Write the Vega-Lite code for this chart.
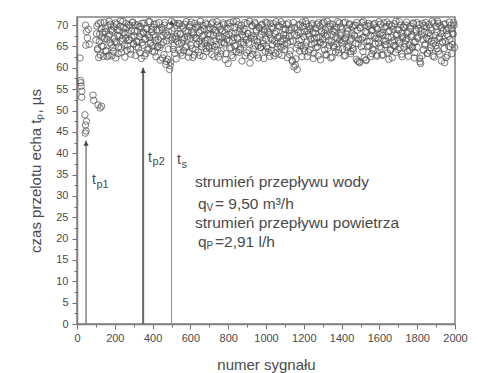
{
  "$schema": "https://vega.github.io/schema/vega-lite/v6.json",
  "width": 378,
  "height": 307,
  "autosize": {"type": "none"},
  "padding": {"left": 77, "top": 17, "right": 23, "bottom": 49},
  "background": "white",
  "config": {
    "view": {"stroke": "#808080", "strokeWidth": 1.5},
    "axis": {
      "domainColor": "#808080", "domainWidth": 1.5, "tickColor": "#707070", "tickWidth": 1,
      "labelColor": "#4a4a4a", "titleColor": "#4a4a4a", "labelFont": "Liberation Sans", "titleFont": "Liberation Sans",
      "labelFontSize": 11, "titleFontSize": 15, "titleFontWeight": "normal", "grid": false,
      "labelFlush": false, "labelOverlap": false, "tickCount": 100
    },
    "text": {"font": "Liberation Sans", "color": "#4a4a4a"}
  },
  "datasets": {
    "pts": [
      {"n":16,"t":62.3},{"n":18,"t":57.0},{"n":22,"t":55.7},{"n":20,"t":56.5},{"n":25,"t":53.1},{"n":26,"t":54.5},{"n":42,"t":49.0},{"n":45,"t":46.6},{"n":48,"t":45.2},{"n":44,"t":44.7},{"n":50,"t":47.5},{"n":85,"t":53.6},{"n":88,"t":52.4},{"n":111,"t":51.3},{"n":122,"t":50.6},{"n":130,"t":51.0},{"n":45,"t":70.0},{"n":50,"t":68.5},{"n":55,"t":67.0},{"n":47,"t":65.3},{"n":65,"t":65.5},{"n":60,"t":69.0},
      {"n":100,"t":66.5},{"n":105,"t":69.8},{"n":110,"t":64.2},{"n":115,"t":62.4},{"n":120,"t":67.9},{"n":125,"t":70.6},{"n":130,"t":65.1},{"n":135,"t":68.3},{"n":140,"t":62.7},{"n":145,"t":66.8},{"n":150,"t":69.2},{"n":155,"t":63.9},{"n":160,"t":62.6},{"n":165,"t":67.4},{"n":170,"t":70.9},{"n":175,"t":65.8},{"n":180,"t":68.9},{"n":185,"t":62.8},{"n":190,"t":64.7},{"n":195,"t":69.6},
      {"n":200,"t":66.1},{"n":205,"t":62.3},{"n":210,"t":70.2},{"n":215,"t":67.6},{"n":220,"t":64.9},{"n":225,"t":68.7},{"n":230,"t":71.0},{"n":235,"t":63.6},{"n":240,"t":66.9},{"n":245,"t":69.4},{"n":250,"t":65.3},{"n":255,"t":67.8},{"n":260,"t":70.4},{"n":265,"t":64.1},{"n":270,"t":68.2},{"n":275,"t":66.4},{"n":280,"t":69.9},{"n":285,"t":63.2},{"n":290,"t":67.1},{"n":295,"t":70.7},
      {"n":300,"t":65.6},{"n":305,"t":68.6},{"n":310,"t":62.9},{"n":315,"t":66.2},{"n":320,"t":70.1},{"n":325,"t":64.6},{"n":330,"t":67.3},{"n":335,"t":69.7},{"n":340,"t":62.2},{"n":345,"t":65.9},{"n":350,"t":68.1},{"n":355,"t":70.5},{"n":360,"t":66.7},{"n":365,"t":63.4},{"n":370,"t":69.1},{"n":375,"t":67.7},{"n":380,"t":64.4},{"n":385,"t":70.8},{"n":390,"t":66.0},{"n":395,"t":68.4},
      {"n":400,"t":65.2},{"n":405,"t":69.5},{"n":410,"t":63.7},{"n":415,"t":67.2},{"n":420,"t":70.3},{"n":425,"t":64.8},{"n":430,"t":66.6},{"n":435,"t":68.8},{"n":440,"t":61.8},{"n":445,"t":65.4},{"n":450,"t":69.0},{"n":455,"t":67.5},{"n":460,"t":63.1},{"n":465,"t":70.6},{"n":470,"t":60.8},{"n":475,"t":66.3},{"n":480,"t":62.0},{"n":485,"t":68.5},{"n":490,"t":59.6},{"n":495,"t":61.3},
      {"n":500,"t":70.9},{"n":505,"t":67.0},{"n":510,"t":64.3},{"n":515,"t":69.3},{"n":520,"t":66.8},{"n":525,"t":62.1},{"n":530,"t":68.0},{"n":535,"t":70.4},{"n":540,"t":65.7},{"n":545,"t":67.9},{"n":550,"t":63.5},{"n":555,"t":69.8},{"n":560,"t":66.5},{"n":565,"t":64.0},{"n":570,"t":70.2},{"n":575,"t":68.6},{"n":580,"t":65.0},{"n":585,"t":67.4},{"n":590,"t":62.5},{"n":595,"t":69.6},
      {"n":600,"t":66.9},{"n":605,"t":70.7},{"n":610,"t":64.5},{"n":615,"t":68.2},{"n":620,"t":63.0},{"n":625,"t":67.0},{"n":630,"t":69.4},{"n":635,"t":65.5},{"n":640,"t":70.0},{"n":645,"t":66.2},{"n":650,"t":62.9},{"n":655,"t":68.8},{"n":660,"t":64.9},{"n":665,"t":69.9},{"n":670,"t":67.6},{"n":675,"t":65.8},{"n":680,"t":70.5},{"n":685,"t":63.8},{"n":690,"t":66.6},{"n":695,"t":68.9},
      {"n":700,"t":64.6},{"n":705,"t":67.8},{"n":710,"t":70.3},{"n":715,"t":65.2},{"n":720,"t":69.1},{"n":725,"t":62.6},{"n":730,"t":66.4},{"n":735,"t":68.3},{"n":740,"t":70.8},{"n":745,"t":64.2},{"n":750,"t":67.3},{"n":755,"t":69.7},{"n":760,"t":63.3},{"n":765,"t":66.0},{"n":770,"t":68.7},{"n":775,"t":70.1},{"n":780,"t":65.6},{"n":785,"t":61.9},{"n":790,"t":67.5},{"n":795,"t":69.2},
      {"n":800,"t":61.0},{"n":805,"t":66.3},{"n":810,"t":70.6},{"n":815,"t":64.7},{"n":820,"t":68.0},{"n":825,"t":62.4},{"n":830,"t":67.1},{"n":835,"t":69.5},{"n":840,"t":65.3},{"n":845,"t":70.9},{"n":850,"t":66.8},{"n":855,"t":63.6},{"n":860,"t":68.4},{"n":865,"t":64.4},{"n":870,"t":70.0},{"n":875,"t":67.7},{"n":880,"t":65.9},{"n":885,"t":69.0},{"n":890,"t":62.8},{"n":895,"t":66.5},
      {"n":900,"t":70.4},{"n":905,"t":68.1},{"n":910,"t":64.1},{"n":915,"t":61.1},{"n":920,"t":66.9},{"n":925,"t":69.8},{"n":930,"t":63.2},{"n":935,"t":67.2},{"n":940,"t":70.7},{"n":945,"t":65.1},{"n":950,"t":68.6},{"n":955,"t":66.1},{"n":960,"t":62.3},{"n":965,"t":69.3},{"n":970,"t":64.8},{"n":975,"t":67.9},{"n":980,"t":70.2},{"n":985,"t":65.7},{"n":990,"t":68.9},{"n":995,"t":63.9},
      {"n":1000,"t":66.7},{"n":1005,"t":70.5},{"n":1010,"t":64.5},{"n":1015,"t":68.2},{"n":1020,"t":62.7},{"n":1025,"t":67.0},{"n":1030,"t":69.6},{"n":1035,"t":65.4},{"n":1040,"t":70.3},{"n":1045,"t":66.3},{"n":1050,"t":63.4},{"n":1055,"t":68.5},{"n":1060,"t":64.9},{"n":1065,"t":69.9},{"n":1070,"t":67.4},{"n":1075,"t":65.0},{"n":1080,"t":70.8},{"n":1085,"t":62.9},{"n":1090,"t":66.8},{"n":1095,"t":69.1},
      {"n":1100,"t":64.3},{"n":1105,"t":67.6},{"n":1110,"t":70.1},{"n":1115,"t":65.8},{"n":1120,"t":68.8},{"n":1125,"t":63.1},{"n":1130,"t":66.2},{"n":1135,"t":69.4},{"n":1140,"t":61.5},{"n":1145,"t":70.6},{"n":1150,"t":67.8},{"n":1155,"t":60.6},{"n":1160,"t":64.6},{"n":1165,"t":59.6},{"n":1170,"t":68.3},{"n":1175,"t":66.4},{"n":1180,"t":70.0},{"n":1185,"t":65.2},{"n":1190,"t":62.6},{"n":1195,"t":69.7},
      {"n":1200,"t":67.3},{"n":1205,"t":64.0},{"n":1210,"t":70.9},{"n":1215,"t":66.0},{"n":1220,"t":68.7},{"n":1225,"t":63.7},{"n":1230,"t":67.5},{"n":1235,"t":69.2},{"n":1240,"t":65.5},{"n":1245,"t":70.4},{"n":1250,"t":62.2},{"n":1255,"t":66.9},{"n":1260,"t":68.1},{"n":1265,"t":64.7},{"n":1270,"t":70.2},{"n":1275,"t":62.8},{"n":1280,"t":67.1},{"n":1285,"t":69.8},{"n":1290,"t":65.9},{"n":1295,"t":68.4},
      {"n":1300,"t":66.6},{"n":1305,"t":70.7},{"n":1310,"t":64.2},{"n":1315,"t":68.9},{"n":1320,"t":63.0},{"n":1325,"t":67.7},{"n":1330,"t":69.5},{"n":1335,"t":65.3},{"n":1340,"t":70.3},{"n":1345,"t":66.1},{"n":1350,"t":62.5},{"n":1355,"t":68.6},{"n":1360,"t":64.8},{"n":1365,"t":69.0},{"n":1370,"t":67.2},{"n":1375,"t":65.6},{"n":1380,"t":70.8},{"n":1385,"t":63.5},{"n":1390,"t":66.5},{"n":1395,"t":69.6},
      {"n":1400,"t":68.2},{"n":1405,"t":64.4},{"n":1410,"t":70.5},{"n":1415,"t":66.8},{"n":1420,"t":62.9},{"n":1425,"t":67.9},{"n":1430,"t":69.3},{"n":1435,"t":65.0},{"n":1440,"t":70.1},{"n":1445,"t":66.3},{"n":1450,"t":63.8},{"n":1455,"t":68.0},{"n":1460,"t":64.5},{"n":1465,"t":69.9},{"n":1470,"t":67.4},{"n":1475,"t":65.7},{"n":1480,"t":70.6},{"n":1485,"t":61.6},{"n":1490,"t":66.7},{"n":1495,"t":61.2},
      {"n":1500,"t":69.4},{"n":1505,"t":64.9},{"n":1510,"t":67.0},{"n":1515,"t":70.9},{"n":1520,"t":62.4},{"n":1525,"t":68.5},{"n":1530,"t":61.7},{"n":1535,"t":66.2},{"n":1540,"t":69.7},{"n":1545,"t":65.1},{"n":1550,"t":70.0},{"n":1555,"t":67.6},{"n":1560,"t":63.3},{"n":1565,"t":68.8},{"n":1570,"t":64.1},{"n":1575,"t":70.4},{"n":1580,"t":66.9},{"n":1585,"t":62.7},{"n":1590,"t":69.1},{"n":1595,"t":65.8},
      {"n":1600,"t":67.8},{"n":1605,"t":70.2},{"n":1610,"t":64.6},{"n":1615,"t":68.3},{"n":1620,"t":63.1},{"n":1625,"t":66.4},{"n":1630,"t":69.5},{"n":1635,"t":65.4},{"n":1640,"t":70.7},{"n":1645,"t":67.1},{"n":1650,"t":62.0},{"n":1655,"t":68.7},{"n":1660,"t":64.3},{"n":1665,"t":69.8},{"n":1670,"t":66.0},{"n":1675,"t":65.2},{"n":1680,"t":70.3},{"n":1685,"t":63.6},{"n":1690,"t":67.5},{"n":1695,"t":69.0},
      {"n":1700,"t":66.5},{"n":1705,"t":70.8},{"n":1710,"t":64.7},{"n":1715,"t":68.1},{"n":1720,"t":62.6},{"n":1725,"t":67.3},{"n":1730,"t":69.6},{"n":1735,"t":65.6},{"n":1740,"t":70.0},{"n":1745,"t":66.8},{"n":1750,"t":63.9},{"n":1755,"t":68.4},{"n":1760,"t":64.2},{"n":1765,"t":69.2},{"n":1770,"t":67.7},{"n":1775,"t":65.0},{"n":1780,"t":70.5},{"n":1785,"t":62.3},{"n":1790,"t":66.1},{"n":1795,"t":68.9},
      {"n":1800,"t":64.8},{"n":1805,"t":67.2},{"n":1810,"t":70.1},{"n":1815,"t":61.4},{"n":1820,"t":68.6},{"n":1825,"t":62.8},{"n":1830,"t":66.6},{"n":1835,"t":69.9},{"n":1840,"t":65.3},{"n":1845,"t":70.6},{"n":1850,"t":67.0},{"n":1855,"t":63.4},{"n":1860,"t":68.2},{"n":1865,"t":64.0},{"n":1870,"t":69.3},{"n":1875,"t":66.3},{"n":1880,"t":70.9},{"n":1885,"t":65.7},{"n":1890,"t":62.5},{"n":1895,"t":67.6},
      {"n":1900,"t":69.7},{"n":1905,"t":64.5},{"n":1910,"t":70.4},{"n":1915,"t":66.9},{"n":1920,"t":63.2},{"n":1925,"t":68.0},{"n":1930,"t":69.4},{"n":1935,"t":65.9},{"n":1940,"t":70.2},{"n":1945,"t":61.2},{"n":1950,"t":66.2},{"n":1955,"t":68.8},{"n":1960,"t":62.9},{"n":1965,"t":67.4},{"n":1970,"t":70.7},{"n":1975,"t":64.9},{"n":1980,"t":69.1},{"n":1985,"t":65.5},{"n":1990,"t":67.9},{"n":1995,"t":70.0},
      {"n":103,"t":68.0},{"n":108,"t":64.5},{"n":113,"t":70.3},{"n":118,"t":66.2},{"n":123,"t":63.0},{"n":128,"t":69.1},{"n":133,"t":67.2},{"n":138,"t":65.0},{"n":143,"t":70.7},{"n":148,"t":68.4},{"n":153,"t":64.0},{"n":158,"t":66.7},{"n":163,"t":69.9},{"n":168,"t":62.9},{"n":173,"t":67.8},{"n":178,"t":70.2},{"n":183,"t":65.4},{"n":188,"t":68.6},{"n":193,"t":63.8},{"n":198,"t":66.9},
      {"n":203,"t":70.5},{"n":208,"t":65.9},{"n":213,"t":68.9},{"n":218,"t":63.3},{"n":223,"t":67.4},{"n":228,"t":69.7},{"n":233,"t":64.6},{"n":238,"t":66.3},{"n":243,"t":70.9},{"n":248,"t":68.2},{"n":253,"t":62.5},{"n":258,"t":67.0},{"n":263,"t":69.4},{"n":268,"t":65.1},{"n":273,"t":70.1},{"n":278,"t":66.6},{"n":283,"t":64.3},{"n":288,"t":68.7},{"n":293,"t":70.6},{"n":298,"t":65.6},
      {"n":303,"t":67.5},{"n":308,"t":70.0},{"n":313,"t":64.9},{"n":318,"t":68.5},{"n":323,"t":66.1},{"n":328,"t":69.6},{"n":333,"t":63.5},{"n":338,"t":67.9},{"n":343,"t":70.4},{"n":348,"t":65.3},{"n":353,"t":68.3},{"n":358,"t":62.8},{"n":363,"t":66.8},{"n":368,"t":69.2},{"n":373,"t":64.2},{"n":378,"t":70.8},{"n":383,"t":67.1},{"n":388,"t":65.7},{"n":393,"t":69.0},{"n":398,"t":63.9},
      {"n":403,"t":67.7},{"n":408,"t":70.2},{"n":413,"t":66.4},{"n":418,"t":62.6},{"n":423,"t":68.9},{"n":428,"t":65.0},{"n":433,"t":70.6},{"n":438,"t":64.7},{"n":443,"t":67.2},{"n":448,"t":69.5},{"n":453,"t":62.3},{"n":458,"t":66.0},{"n":463,"t":70.0},{"n":468,"t":68.1},{"n":473,"t":61.5},{"n":478,"t":67.6},{"n":483,"t":64.4},{"n":488,"t":69.8},{"n":493,"t":60.5},{"n":498,"t":66.5},
      {"n":503,"t":68.7},{"n":508,"t":65.2},{"n":513,"t":70.5},{"n":518,"t":63.4},{"n":523,"t":67.3},{"n":528,"t":69.9},{"n":533,"t":66.2},{"n":538,"t":64.1},{"n":543,"t":70.3},{"n":548,"t":68.0},{"n":553,"t":65.8},{"n":558,"t":62.9},{"n":563,"t":69.3},{"n":568,"t":67.0},{"n":573,"t":64.8},{"n":578,"t":70.8},{"n":583,"t":66.7},{"n":588,"t":68.5},{"n":593,"t":63.6},{"n":598,"t":70.1},
      {"n":603,"t":65.3},{"n":608,"t":68.4},{"n":613,"t":62.4},{"n":618,"t":67.7},{"n":623,"t":70.4},{"n":628,"t":64.3},{"n":633,"t":66.9},{"n":638,"t":69.6},{"n":643,"t":63.7},{"n":648,"t":68.2},{"n":653,"t":70.9},{"n":658,"t":65.6},{"n":663,"t":67.4},{"n":668,"t":62.7},{"n":673,"t":69.1},{"n":678,"t":66.4},{"n":683,"t":64.5},{"n":688,"t":70.2},{"n":693,"t":67.9},{"n":698,"t":65.0},
      {"n":703,"t":69.4},{"n":708,"t":66.1},{"n":713,"t":63.1},{"n":718,"t":70.7},{"n":723,"t":67.6},{"n":728,"t":64.9},{"n":733,"t":68.8},{"n":738,"t":65.4},{"n":743,"t":70.0},{"n":748,"t":62.5},{"n":753,"t":66.8},{"n":758,"t":69.0},{"n":763,"t":64.0},{"n":768,"t":67.1},{"n":773,"t":70.5},{"n":778,"t":65.9},{"n":783,"t":68.3},{"n":788,"t":63.3},{"n":793,"t":66.6},{"n":798,"t":70.3},
      {"n":803,"t":67.8},{"n":808,"t":64.6},{"n":813,"t":69.7},{"n":818,"t":62.9},{"n":823,"t":66.3},{"n":828,"t":70.8},{"n":833,"t":65.1},{"n":838,"t":68.1},{"n":843,"t":63.8},{"n":848,"t":67.0},{"n":853,"t":70.1},{"n":858,"t":64.2},{"n":863,"t":69.2},{"n":868,"t":66.0},{"n":873,"t":61.6},{"n":878,"t":68.6},{"n":883,"t":65.5},{"n":888,"t":70.6},{"n":893,"t":67.3},{"n":898,"t":63.5},
      {"n":903,"t":68.0},{"n":908,"t":65.8},{"n":913,"t":70.9},{"n":918,"t":62.7},{"n":923,"t":67.5},{"n":928,"t":69.9},{"n":933,"t":64.4},{"n":938,"t":66.7},{"n":943,"t":70.3},{"n":948,"t":68.9},{"n":953,"t":63.0},{"n":958,"t":65.2},{"n":963,"t":69.5},{"n":968,"t":67.2},{"n":973,"t":64.7},{"n":978,"t":70.0},{"n":983,"t":66.4},{"n":988,"t":62.2},{"n":993,"t":68.4},{"n":998,"t":70.7},
      {"n":1003,"t":65.0},{"n":1008,"t":68.6},{"n":1013,"t":63.6},{"n":1018,"t":67.8},{"n":1023,"t":70.4},{"n":1028,"t":64.1},{"n":1033,"t":66.5},{"n":1038,"t":69.3},{"n":1043,"t":62.8},{"n":1048,"t":68.0},{"n":1053,"t":70.8},{"n":1058,"t":65.7},{"n":1063,"t":67.0},{"n":1068,"t":63.2},{"n":1073,"t":69.6},{"n":1078,"t":66.1},{"n":1083,"t":64.8},{"n":1088,"t":70.2},{"n":1093,"t":67.7},{"n":1098,"t":65.3},
      {"n":1103,"t":69.0},{"n":1108,"t":66.9},{"n":1113,"t":62.4},{"n":1118,"t":70.5},{"n":1123,"t":67.4},{"n":1128,"t":64.0},{"n":1133,"t":68.9},{"n":1138,"t":61.8},{"n":1143,"t":66.2},{"n":1148,"t":60.2},{"n":1153,"t":69.4},{"n":1158,"t":62.1},{"n":1163,"t":67.6},{"n":1168,"t":65.4},{"n":1173,"t":70.1},{"n":1178,"t":63.9},{"n":1183,"t":68.2},{"n":1188,"t":66.6},{"n":1193,"t":70.7},{"n":1198,"t":64.5},
      {"n":1203,"t":68.5},{"n":1208,"t":65.1},{"n":1213,"t":70.3},{"n":1218,"t":62.6},{"n":1223,"t":67.9},{"n":1228,"t":69.7},{"n":1233,"t":64.3},{"n":1238,"t":66.7},{"n":1243,"t":70.0},{"n":1248,"t":68.3},{"n":1253,"t":63.4},{"n":1258,"t":65.8},{"n":1263,"t":69.2},{"n":1268,"t":67.1},{"n":1273,"t":64.9},{"n":1278,"t":70.6},{"n":1283,"t":66.0},{"n":1288,"t":61.9},{"n":1293,"t":68.7},{"n":1298,"t":70.4},
      {"n":1303,"t":65.5},{"n":1308,"t":68.1},{"n":1313,"t":63.1},{"n":1318,"t":67.3},{"n":1323,"t":70.9},{"n":1328,"t":64.6},{"n":1333,"t":66.4},{"n":1338,"t":69.8},{"n":1343,"t":62.3},{"n":1348,"t":67.8},{"n":1353,"t":70.2},{"n":1358,"t":65.2},{"n":1363,"t":68.4},{"n":1368,"t":63.7},{"n":1373,"t":69.5},{"n":1378,"t":66.8},{"n":1383,"t":64.2},{"n":1388,"t":70.5},{"n":1393,"t":67.5},{"n":1398,"t":65.9},
      {"n":1403,"t":69.1},{"n":1408,"t":66.3},{"n":1413,"t":62.8},{"n":1418,"t":70.7},{"n":1423,"t":67.0},{"n":1428,"t":64.7},{"n":1433,"t":68.6},{"n":1438,"t":65.3},{"n":1443,"t":70.3},{"n":1448,"t":63.3},{"n":1453,"t":66.9},{"n":1458,"t":69.6},{"n":1463,"t":64.0},{"n":1468,"t":67.7},{"n":1473,"t":70.0},{"n":1478,"t":62.0},{"n":1483,"t":68.8},{"n":1488,"t":65.6},{"n":1493,"t":61.4},{"n":1498,"t":69.3},
      {"n":1503,"t":66.6},{"n":1508,"t":70.6},{"n":1513,"t":63.8},{"n":1518,"t":67.2},{"n":1523,"t":69.9},{"n":1528,"t":61.9},{"n":1533,"t":68.2},{"n":1538,"t":65.0},{"n":1543,"t":70.4},{"n":1548,"t":66.1},{"n":1553,"t":62.6},{"n":1558,"t":68.7},{"n":1563,"t":64.4},{"n":1568,"t":70.1},{"n":1573,"t":67.4},{"n":1578,"t":65.7},{"n":1583,"t":69.4},{"n":1588,"t":63.0},{"n":1593,"t":66.8},{"n":1598,"t":70.8},
      {"n":1603,"t":64.9},{"n":1608,"t":68.0},{"n":1613,"t":62.9},{"n":1618,"t":67.6},{"n":1623,"t":70.5},{"n":1628,"t":65.4},{"n":1633,"t":66.2},{"n":1638,"t":69.7},{"n":1643,"t":63.5},{"n":1648,"t":68.5},{"n":1653,"t":70.2},{"n":1658,"t":64.1},{"n":1663,"t":67.1},{"n":1668,"t":62.4},{"n":1673,"t":69.0},{"n":1678,"t":66.5},{"n":1683,"t":65.1},{"n":1688,"t":70.9},{"n":1693,"t":67.9},{"n":1698,"t":64.3},
      {"n":1703,"t":68.9},{"n":1708,"t":65.8},{"n":1713,"t":70.0},{"n":1718,"t":63.2},{"n":1723,"t":67.0},{"n":1728,"t":69.5},{"n":1733,"t":64.8},{"n":1738,"t":66.4},{"n":1743,"t":70.7},{"n":1748,"t":68.1},{"n":1753,"t":62.7},{"n":1758,"t":65.3},{"n":1763,"t":69.8},{"n":1768,"t":67.3},{"n":1773,"t":64.6},{"n":1778,"t":70.3},{"n":1783,"t":66.0},{"n":1788,"t":63.6},{"n":1793,"t":68.6},{"n":1798,"t":70.6},
      {"n":1803,"t":66.9},{"n":1808,"t":69.2},{"n":1813,"t":62.2},{"n":1818,"t":61.0},{"n":1823,"t":67.7},{"n":1828,"t":70.4},{"n":1833,"t":64.2},{"n":1838,"t":68.3},{"n":1843,"t":65.6},{"n":1848,"t":69.6},{"n":1853,"t":63.4},{"n":1858,"t":66.7},{"n":1863,"t":70.1},{"n":1868,"t":67.5},{"n":1873,"t":64.7},{"n":1878,"t":68.8},{"n":1883,"t":62.8},{"n":1888,"t":70.5},{"n":1893,"t":66.3},{"n":1898,"t":65.2},
      {"n":1903,"t":68.4},{"n":1908,"t":70.9},{"n":1913,"t":63.9},{"n":1918,"t":67.2},{"n":1923,"t":69.9},{"n":1928,"t":61.6},{"n":1933,"t":66.1},{"n":1938,"t":68.7},{"n":1943,"t":64.5},{"n":1948,"t":70.3},{"n":1953,"t":62.4},{"n":1958,"t":67.8},{"n":1963,"t":69.3},{"n":1968,"t":65.0},{"n":1973,"t":66.6},{"n":1978,"t":70.0},{"n":1983,"t":63.3},{"n":1988,"t":68.1},{"n":1993,"t":70.6},{"n":1998,"t":64.8}
    ]
  },
  "layer": [
    {
      "data": {"name": "pts"},
      "mark": {"type": "point", "shape": "circle", "filled": false, "size": 42, "stroke": "#555555", "strokeWidth": 0.9, "opacity": 0.85},
      "encoding": {
        "x": {
          "field": "n", "type": "quantitative", "title": "numer sygnału",
          "scale": {"domain": [0, 2000], "nice": false, "zero": false},
          "axis": {
            "values": [0,100,200,300,400,500,600,700,800,900,1000,1100,1200,1300,1400,1500,1600,1700,1800,1900,2000],
            "format": "d", "tickCount": 100,
            "labelExpr": "datum.value % 200 === 0 ? datum.label : ''",
            "labelOverlap": false, "labelFlush": false,
            "tickSize": {"condition": {"test": "datum.value % 200 === 0", "value": 5}, "value": 3},
            "labelPadding": 3, "titlePadding": 14
          }
        },
        "y": {
          "field": "t", "type": "quantitative", "title": "czas przelotu echa tₚ, µs",
          "scale": {"domain": [0, 71.9], "nice": false, "zero": false},
          "axis": {
            "values": [0,2.5,5,7.5,10,12.5,15,17.5,20,22.5,25,27.5,30,32.5,35,37.5,40,42.5,45,47.5,50,52.5,55,57.5,60,62.5,65,67.5,70],
            "tickCount": 100,
            "labelExpr": "datum.value % 5 === 0 ? datum.label : ''",
            "labelOverlap": false, "labelFlush": false,
            "tickSize": {"condition": {"test": "datum.value % 5 === 0", "value": 5}, "value": 3},
            "labelPadding": 4, "titlePadding": 12
          }
        }
      }
    },
    {
      "data": {"values": [{"n": 48, "tip": 43}]},
      "mark": {"type": "rule", "color": "#808080", "strokeWidth": 1.5},
      "encoding": {"x": {"field": "n", "type": "quantitative"}, "y": {"field": "tip", "type": "quantitative"}, "y2": {"datum": 0}}
    },
    {
      "data": {"values": [{"n": 350, "tip": 60}]},
      "mark": {"type": "rule", "color": "#666666", "strokeWidth": 2},
      "encoding": {"x": {"field": "n", "type": "quantitative"}, "y": {"field": "tip", "type": "quantitative"}, "y2": {"datum": 0}}
    },
    {
      "data": {"values": [{"n": 500, "tip": 71.3}]},
      "mark": {"type": "rule", "color": "#909090", "strokeWidth": 1},
      "encoding": {"x": {"field": "n", "type": "quantitative"}, "y": {"field": "tip", "type": "quantitative"}, "y2": {"datum": 0}}
    },
    {
      "data": {"values": [{"n": 48, "tip": 43}, {"n": 350, "tip": 60}, {"n": 500, "tip": 71.3}]},
      "mark": {"type": "point", "shape": "triangle-up", "filled": true, "size": 28, "color": "#444444", "opacity": 1, "yOffset": 3},
      "encoding": {"x": {"field": "n", "type": "quantitative"}, "y": {"field": "tip", "type": "quantitative"}}
    },
    {
      "data": {"values": [{"n": 79, "t": 33.7, "txt": "t"}, {"n": 376, "t": 38.9, "txt": "t"}, {"n": 529, "t": 38.4, "txt": "t"}]},
      "mark": {"type": "text", "align": "left", "baseline": "middle", "fontSize": 14},
      "encoding": {"x": {"field": "n", "type": "quantitative"}, "y": {"field": "t", "type": "quantitative"}, "text": {"field": "txt"}}
    },
    {
      "data": {"values": [{"n": 79, "t": 33.7, "txt": "p1"}, {"n": 376, "t": 38.9, "txt": "p2"}, {"n": 529, "t": 38.4, "txt": "s"}]},
      "mark": {"type": "text", "align": "left", "baseline": "middle", "fontSize": 11, "dx": 4.5, "dy": 4.5},
      "encoding": {"x": {"field": "n", "type": "quantitative"}, "y": {"field": "t", "type": "quantitative"}, "text": {"field": "txt"}}
    },
    {
      "data": {"values": [{"n": 624, "t": 33.3, "txt": "strumień przepływu wody"}, {"n": 624, "t": 23.6, "txt": "strumień przepływu powietrza"}]},
      "mark": {"type": "text", "align": "left", "baseline": "middle", "fontSize": 15.5},
      "encoding": {"x": {"field": "n", "type": "quantitative"}, "y": {"field": "t", "type": "quantitative"}, "text": {"field": "txt"}}
    },
    {
      "data": {"values": [{"n": 640, "t": 28.2, "txt": "q"}, {"n": 640, "t": 19.2, "txt": "q"}]},
      "mark": {"type": "text", "align": "left", "baseline": "middle", "fontSize": 15.5},
      "encoding": {"x": {"field": "n", "type": "quantitative"}, "y": {"field": "t", "type": "quantitative"}, "text": {"field": "txt"}}
    },
    {
      "data": {"values": [{"n": 640, "t": 28.2, "txt": "V"}, {"n": 640, "t": 19.2, "txt": "P"}]},
      "mark": {"type": "text", "align": "left", "baseline": "middle", "fontSize": 10, "dx": 8.5, "dy": 4},
      "encoding": {"x": {"field": "n", "type": "quantitative"}, "y": {"field": "t", "type": "quantitative"}, "text": {"field": "txt"}}
    },
    {
      "data": {"values": [{"n": 640, "t": 28.2, "txt": "= 9,50 m³/h"}, {"n": 640, "t": 19.2, "txt": "=2,91 l/h"}]},
      "mark": {"type": "text", "align": "left", "baseline": "middle", "fontSize": 15.5, "dx": 17}, 
      "encoding": {"x": {"field": "n", "type": "quantitative"}, "y": {"field": "t", "type": "quantitative"}, "text": {"field": "txt"}}
    }
  ]
}
